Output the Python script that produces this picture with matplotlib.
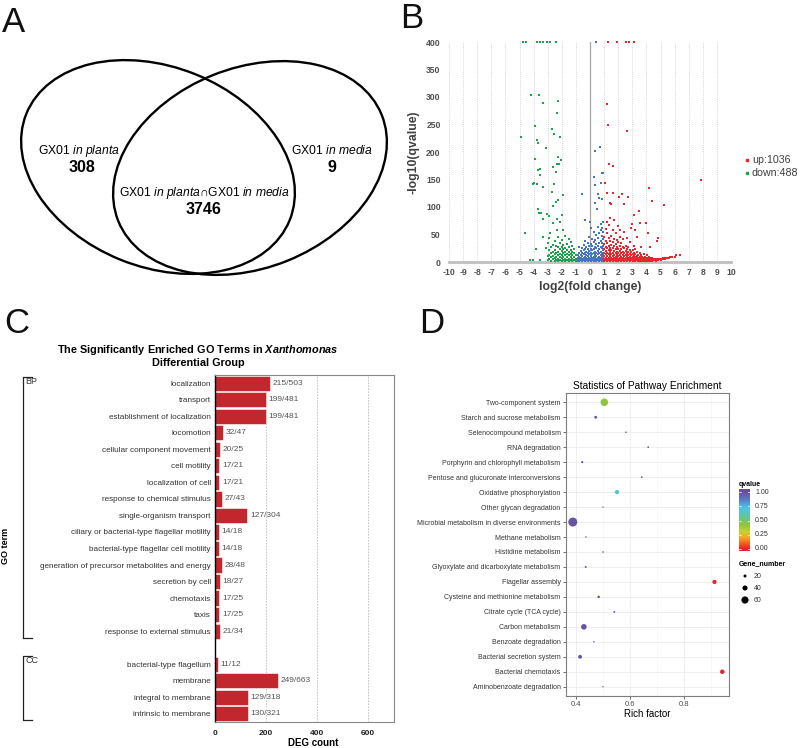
import numpy as np
import matplotlib
matplotlib.use('Agg')
import matplotlib.pyplot as plt
from matplotlib.patches import Ellipse
from matplotlib.lines import Line2D
from matplotlib.colors import LinearSegmentedColormap

plt.rcParams['font.family'] = ['Liberation Sans', 'DejaVu Sans']
plt.rcParams['mathtext.fontset'] = 'custom'
plt.rcParams['mathtext.rm'] = 'Liberation Sans'
plt.rcParams['mathtext.it'] = 'Liberation Sans:italic'
plt.rcParams['mathtext.bf'] = 'Liberation Sans:bold'
plt.rcParams['mathtext.bfit'] = 'Liberation Sans:italic:bold'
plt.rcParams['axes.unicode_minus'] = False

# ---------------- Panel A data ----------------
venn_names = ['GX01 $\\mathit{in\\ planta}$', 'GX01 $\\mathit{in\\ media}$']
venn_only = [308, 9]
venn_both = 3746

# ---------------- Panel B data ----------------
up_outliers = [(1.31, 400), (1.95, 400), (2.57, 400), (2.80, 400), (3.14, 400),
               (1.20, 287), (1.31, 250), (2.62, 238), (1.36, 178), (1.62, 174), (7.89, 150),
               (4.20, 135), (4.39, 111), (5.27, 103), (1.08, 144), (1.20, 126), (1.43, 108),
               (1.50, 105), (1.60, 126), (2.26, 124), (2.73, 118), (2.07, 118), (2.43, 106),
               (3.49, 93), (3.09, 85), (4.82, 44), (1.20, 73), (1.67, 76), (2.97, 70),
               (3.56, 71), (3.99, 71), (2.14, 58), (3.21, 58), (4.11, 52), (4.75, 39),
               (4.27, 27), (5.69, 10), (6.12, 12), (6.40, 13), (5.34, 8), (4.98, 6)]
up_columns = [(1.02, [1, 6, 11, 17, 24, 32, 45]), (1.12, [3, 8, 14, 20, 28, 38, 60]),
              (1.22, [1, 6, 11, 17, 25, 35, 52]), (1.32, [3, 8, 14, 21, 30, 44, 68]),
              (1.42, [1, 6, 11, 18, 26, 38, 80]), (1.52, [3, 8, 14, 21, 31, 48]),
              (1.62, [1, 6, 11, 17, 25, 36, 58]), (1.72, [3, 8, 13, 20, 29, 42]),
              (1.82, [1, 5, 10, 16, 23, 33, 52]), (1.92, [3, 8, 13, 19, 27, 40]),
              (2.02, [1, 6, 11, 17, 24, 36, 66]), (2.12, [3, 8, 13, 20, 30, 46]),
              (2.22, [1, 5, 10, 16, 23, 34]), (2.32, [3, 8, 13, 19, 28, 41]),
              (2.42, [1, 6, 11, 17, 25, 55]), (2.52, [3, 8, 13, 20, 30]),
              (2.62, [1, 5, 10, 16, 24, 44]), (2.72, [3, 7, 12, 19, 28]),
              (2.82, [1, 5, 10, 15, 22, 36]), (2.92, [3, 7, 12, 18, 62]),
              (3.02, [1, 5, 9, 14, 21]), (3.12, [3, 7, 12, 17, 30]),
              (3.22, [1, 5, 9, 14, 24]), (3.32, [3, 7, 11, 19, 45]),
              (3.42, [1, 4, 8, 13]), (3.52, [2, 6, 10, 17]), (3.62, [1, 4, 8, 13, 28]),
              (3.72, [2, 6, 10]), (3.82, [1, 4, 8, 15]), (3.92, [2, 5, 9]),
              (4.02, [1, 4, 7, 12]), (4.15, [2, 5, 9]), (4.28, [1, 4, 7]),
              (4.42, [2, 5, 8]), (4.55, [3, 6]), (4.70, [2, 5]), (4.85, [4, 6]),
              (5.00, [3, 6]), (5.15, [5, 7]), (5.30, [6]), (5.45, [7]), (5.60, [8]),
              (5.80, [9]), (6.00, [10])]

down_outliers = [(-4.72, 400), (-4.53, 400), (-3.78, 400), (-3.54, 400), (-3.30, 400),
                 (-3.07, 400), (-2.83, 400), (-2.40, 400),
                 (-4.20, 304), (-3.59, 304), (-3.30, 289), (-2.24, 292), (-2.31, 271),
                 (-3.89, 247), (-2.71, 242), (-2.52, 233), (-2.12, 227), (-4.86, 227),
                 (-3.73, 221), (-3.71, 217), (-3.11, 207), (-3.89, 188), (-2.24, 191),
                 (-2.07, 186), (-2.36, 179), (-2.59, 173), (-2.17, 179), (-3.70, 168),
                 (-2.40, 164), (-3.54, 158), (-3.94, 144), (-3.73, 141), (-2.54, 142),
                 (-1.93, 122), (-3.30, 136), (-2.71, 127), (-2.24, 112), (-2.40, 109),
                 (-2.64, 101), (-3.66, 97), (-3.07, 88), (-2.88, 83), (-3.30, 79),
                 (-2.36, 79), (-2.00, 85), (-4.60, 52), (-3.35, 45), (-4.01, 3),
                 (-4.25, 3), (-3.54, 4), (-2.59, 71), (-2.12, 73), (-1.88, 58),
                 (-2.83, 52), (-2.36, 58), (-3.85, 23), (-3.12, 25), (-2.90, 44),
                 (-3.62, 89), (-3.50, 90), (-4.04, 142), (-3.55, 169)]
down_columns = [(-1.02, [1, 6, 12]), (-1.12, [3, 9, 16, 24]), (-1.25, [1, 6, 12, 19, 30]),
                (-1.38, [3, 9, 15, 22, 36]), (-1.50, [1, 6, 12, 18, 27, 42]),
                (-1.62, [3, 9, 15, 21, 33]), (-1.75, [1, 6, 12, 19, 26, 48]),
                (-1.88, [4, 10, 16, 23, 31]), (-2.00, [1, 7, 13, 20, 28, 40]),
                (-2.12, [3, 9, 15, 24, 35]), (-2.25, [1, 6, 12, 18, 27, 46]),
                (-2.38, [4, 10, 17, 29]), (-2.50, [2, 8, 14, 22, 38]),
                (-2.62, [5, 11, 19, 31]), (-2.75, [2, 9, 16, 27]),
                (-2.88, [5, 13, 21]), (-3.00, [3, 11, 34])]

ns_outliers = [(0.44, 400), (0.32, 201), (0.72, 209), (0.25, 155), (0.84, 161), (0.90, 162),
               (0.33, 140), (0.76, 143), (0.57, 124), (0.33, 108), (0.65, 117), (0.85, 115),
               (0.47, 97), (-0.60, 124), (-0.34, 76), (0.01, 73), (-0.80, 28), (0.10, 62)]
ns_columns = [(-0.95, [1, 5]), (-0.85, [2, 7, 12]), (-0.75, [1, 5, 10, 16]),
              (-0.65, [3, 8, 13, 20]), (-0.55, [1, 6, 11, 17, 26]),
              (-0.45, [3, 8, 14, 21, 31]), (-0.35, [1, 5, 10, 16, 24, 38]),
              (-0.25, [3, 8, 13, 19, 28]), (-0.15, [1, 6, 11, 17, 23, 34]),
              (-0.05, [3, 8, 14, 20, 29, 46]), (0.05, [1, 6, 11, 17, 24, 33]),
              (0.15, [3, 8, 14, 21, 30, 42]), (0.25, [1, 5, 10, 16, 23, 36, 55]),
              (0.35, [3, 8, 13, 19, 27, 40]), (0.45, [1, 6, 11, 17, 25, 33, 50]),
              (0.55, [3, 8, 14, 20, 29, 44, 64]), (0.65, [1, 5, 10, 16, 23, 35, 52]),
              (0.75, [3, 8, 13, 19, 27, 39, 58, 70]), (0.85, [1, 6, 11, 17, 25, 34, 47, 62]),
              (0.95, [3, 9, 15, 22, 30, 41, 55, 72])]
volcano_legend = ['up:1036', 'down:488']

# ---------------- Panel C data ----------------
go_terms = ['localization', 'transport', 'establishment of localization', 'locomotion',
            'cellular component movement', 'cell motility', 'localization of cell',
            'response to chemical stimulus', 'single-organism transport',
            'ciliary or bacterial-type flagellar motility', 'bacterial-type flagellar cell motility',
            'generation of precursor metabolites and energy', 'secretion by cell', 'chemotaxis',
            'taxis', 'response to external stimulus',
            'bacterial-type flagellum', 'membrane', 'integral to membrane', 'intrinsic to membrane']
go_counts = [215, 199, 199, 32, 20, 17, 17, 27, 127, 14, 14, 28, 18, 17, 17, 21, 11, 249, 129, 130]
go_totals = [503, 481, 481, 47, 25, 21, 21, 43, 304, 18, 18, 48, 27, 25, 25, 34, 12, 663, 318, 321]
go_groups = ['BP'] * 16 + ['CC'] * 4

# ---------------- Panel D data ----------------
pathways = ['Two-component system', 'Starch and sucrose metabolism', 'Selenocompound metabolism',
            'RNA degradation', 'Porphyrin and chlorophyll metabolism',
            'Pentose and glucuronate interconversions', 'Oxidative phosphorylation',
            'Other glycan degradation', 'Microbial metabolism in diverse environments',
            'Methane metabolism', 'Histidine metabolism', 'Glyoxylate and dicarboxylate metabolism',
            'Flagellar assembly', 'Cysteine and methionine metabolism', 'Citrate cycle (TCA cycle)',
            'Carbon metabolism', 'Benzoate degradation', 'Bacterial secretion system',
            'Bacterial chemotaxis', 'Aminobenzoate degradation']
rich_factor = [0.504, 0.472, 0.584, 0.667, 0.422, 0.643, 0.551, 0.499, 0.387, 0.436,
               0.499, 0.435, 0.913, 0.483, 0.541, 0.428, 0.465, 0.414, 0.942, 0.499]
qvalue = [0.42, 0.98, 1.0, 1.0, 1.0, 1.0, 0.72, 1.0, 0.97, 1.0,
          1.0, 1.0, 0.01, 1.0, 1.0, 0.97, 1.0, 0.98, 0.0, 1.0]
gene_number = [63, 18, 6, 8, 12, 7, 32, 4, 77, 5, 6, 10, 32, 15, 9, 45, 5, 28, 34, 4]
size_legend = [20, 40, 60]
q_ticks = [0.0, 0.25, 0.5, 0.75, 1.0]

# ======================================================
W, H = 800, 748
fig = plt.figure(figsize=(8, 7.48), dpi=100)
fig.patch.set_facecolor('white')


def px_axes(x0, y0, x1, y1):
    return fig.add_axes([x0 / W, 1 - y1 / H, (x1 - x0) / W, (y1 - y0) / H])


def ftext(x, y, s, **kw):
    return fig.text(x / W, 1 - y / H, s, **kw)


# panel letters
for lab, x, y in [('A', 2, 32), ('B', 400, 28), ('C', 4, 333), ('D', 419, 333)]:
    ftext(x, y, lab, fontsize=25, va='baseline', ha='left', color='#111111')

# ---------------- Panel A ----------------
axA = px_axes(0, 0, 400, 300)
axA.set_xlim(0, 400)
axA.set_ylim(300, 0)
axA.axis('off')
axA.add_patch(Ellipse((158, 167), 284, 200, angle=22, fill=False, lw=1.7, ec='black'))
axA.add_patch(Ellipse((250, 168), 284, 200, angle=-22, fill=False, lw=1.7, ec='black'))
fs_lab = 8.7
fs_num = 11.5
axA.text(79, 151, venn_names[0], ha='center', va='center', fontsize=fs_lab)
axA.text(82, 168, str(venn_only[0]), ha='center', va='center', fontsize=fs_num, fontweight='bold')
axA.text(332, 151, venn_names[1], ha='center', va='center', fontsize=fs_lab)
axA.text(332, 168, str(venn_only[1]), ha='center', va='center', fontsize=fs_num, fontweight='bold')
axA.text(204, 193, venn_names[0] + '\u2229' + venn_names[1], ha='center', va='center', fontsize=fs_lab)
axA.text(204, 210, str(venn_both), ha='center', va='center', fontsize=fs_num, fontweight='bold')

# ---------------- Panel B ----------------
def flatten(outliers, columns):
    pts = list(outliers)
    for x, ys in columns:
        pts += [(x, y) for y in ys]
    a = np.array(pts, dtype=float)
    return a[:, 0], a[:, 1]


ux, uy = flatten(up_outliers, up_columns)
dx, dy = flatten(down_outliers, down_columns)
nx, ny = flatten(ns_outliers, ns_columns)

axB = px_axes(449, 42, 731, 262)
axB.set_xlim(-10, 10)
axB.set_ylim(0, 400)
for s in ['top', 'right', 'left']:
    axB.spines[s].set_visible(False)
axB.spines['bottom'].set_color('#BFBFBF')
axB.spines['bottom'].set_linewidth(2)
for v in range(-10, 11):
    axB.axvline(v, color='#C8C8C8', ls=(0, (1, 1.5)), lw=0.6, zorder=0)
axB.axvline(0, color='#A6A6A6', lw=0.9, zorder=1)
axB.set_xticks(range(-10, 11))
axB.set_yticks(range(0, 401, 50))
axB.tick_params(length=0, labelsize=6.2, labelcolor='#505050')
axB.tick_params(axis='x', pad=4.5)
axB.tick_params(axis='y', pad=6)
for lbl in axB.get_xticklabels() + axB.get_yticklabels():
    lbl.set_fontweight('bold')
mk = dict(marker='s', s=2.6, linewidths=0, clip_on=False, zorder=3)
axB.scatter(nx, ny, color='#4472C4', **mk)
axB.scatter(dx, dy, color='#1FA34A', **mk)
axB.scatter(ux, uy, color='#E8262B', **mk)
axB.set_xlabel('log2(fold change)', fontsize=8.8, fontweight='bold', color='#404040', labelpad=3)
axB.set_ylabel('-log10(qvalue)', fontsize=8.8, fontweight='bold', color='#404040', labelpad=5)
fig.add_artist(Line2D([747 / W], [1 - 160 / H], marker='s', ms=1.6, color='#E8262B', lw=0))
fig.add_artist(Line2D([747 / W], [1 - 173 / H], marker='s', ms=1.6, color='#1FA34A', lw=0))
ftext(752, 160, volcano_legend[0], fontsize=7.7, color='#404040', va='center')
ftext(752, 173, volcano_legend[1], fontsize=7.7, color='#404040', va='center')

# ---------------- Panel C ----------------
go_pos = [i if g == 'BP' else i + 1 for i, g in enumerate(go_groups)]
axC = px_axes(215, 375, 394, 722)
axC.barh(go_pos, go_counts, height=0.92, color='#C1272D', edgecolor='white', linewidth=0.4, zorder=2)
axC.set_xlim(0, 702)
axC.set_ylim(20.5, -0.5)
for v in [200, 400, 600]:
    axC.axvline(v, color='#BBBBBB', ls=(0, (2, 1.5)), lw=0.6, zorder=0)
axC.set_yticks(go_pos)
axC.set_yticklabels(go_terms, fontsize=5.9, color='#333333')
axC.tick_params(axis='y', length=0, pad=3)
axC.set_xticks([0, 200, 400, 600])
axC.tick_params(axis='x', length=0, pad=6, labelsize=6, labelcolor='#222222')
for lbl in axC.get_xticklabels():
    lbl.set_fontweight('bold')
for s in ['top', 'right', 'bottom']:
    axC.spines[s].set_color('#888888')
    axC.spines[s].set_linewidth(0.8)
axC.spines['left'].set_color('black')
axC.spines['left'].set_linewidth(1.0)
for p, c, t in zip(go_pos, go_counts, go_totals):
    axC.text(c + 10, p, f'{c}/{t}', va='center', ha='left', fontsize=6, color='#555555')
ftext(313, 743, 'DEG count', ha='center', va='center', fontsize=7, fontweight='bold')
ftext(198, 350, 'The Significantly Enriched GO Terms in $\\mathbfit{Xanthomonas}$',
      ha='center', va='center', fontsize=7.8, fontweight='bold')
ftext(198, 363, 'Differential Group', ha='center', va='center', fontsize=7.8, fontweight='bold')
ftext(6, 546, 'GO term', rotation=90, ha='center', va='center', fontsize=6.5, fontweight='bold')
# brackets
for (y0, y1, name) in [(376.7, 638, 'BP'), (656, 720, 'CC')]:
    fig.add_artist(Line2D([32 / W, 23 / W, 23 / W, 32 / W],
                          [1 - y0 / H, 1 - y0 / H, 1 - y1 / H, 1 - y1 / H], color='#222222', lw=0.9))
    ftext(25.5, y0 + 4.5, name, fontsize=6.5, va='center', ha='left', color='#333333')

# ---------------- Panel D ----------------
cmap = LinearSegmentedColormap.from_list('q', [
    (0.0, '#E8212A'), (0.1, '#F26522'), (0.2, '#F7A823'), (0.3, '#C2D52F'),
    (0.42, '#8DC63F'), (0.58, '#5EC7A0'), (0.72, '#4FC3E9'), (0.86, '#5A7BC6'),
    (1.0, '#6A4C9C')])


def dot_area(g):
    d = 0.9 + 0.105 * np.asarray(g, dtype=float)  # diameter in px
    return (d * 0.72) ** 2


axD = px_axes(565.7, 393.3, 729.3, 695.7)
ypos = np.arange(len(pathways))
axD.set_xlim(0.3606, 0.968)
axD.set_ylim(19.6, -0.6)
axD.set_xticks([0.4, 0.6, 0.8])
axD.set_xticks([0.5, 0.7, 0.9], minor=True)
axD.set_yticks(ypos)
axD.set_yticklabels(pathways, fontsize=5, color='#333333')
axD.grid(which='major', color='#EBEBEB', lw=0.6)
axD.grid(which='minor', axis='x', color='#F4F4F4', lw=0.4)
axD.set_axisbelow(True)
axD.tick_params(axis='y', length=2.2, width=0.5, color='#333333', pad=1.5)
axD.tick_params(axis='x', which='major', length=2.2, width=0.5, color='#333333', pad=1.5,
                labelsize=5.5, labelcolor='#4D4D4D')
axD.tick_params(axis='x', which='minor', length=0)
for s in axD.spines.values():
    s.set_color('#7F7F7F')
    s.set_linewidth(0.8)
axD.scatter(rich_factor, ypos, s=dot_area(gene_number), c=qvalue, cmap=cmap, vmin=0, vmax=1,
            edgecolors='none', zorder=3)
axD.set_xlabel('Rich factor', fontsize=7, labelpad=1)
axD.set_title('Statistics of Pathway Enrichment', fontsize=7.3, pad=3)

# colorbar
cax = px_axes(739, 489, 750, 551)
lo = -(551 - 549) / 56.7
hi = 1 + (492.3 - 489) / 56.7
grad = np.linspace(hi, lo, 200).reshape(-1, 1)
cax.imshow(np.clip(grad, 0, 1), cmap=cmap, vmin=0, vmax=1, aspect='auto', extent=[0, 1, lo, hi])
cax.set_xlim(0, 1)
cax.set_ylim(lo, hi)
cax.axis('off')
for q in q_ticks:
    cax.plot([0, 0.2], [q, q], color='white', lw=0.5)
    cax.plot([0.8, 1], [q, q], color='white', lw=0.5)
    ftext(755, 549 - q * 56.7, f'{q:.2f}', fontsize=5, va='center', ha='left', color='#333333')
ftext(738.5, 485, 'qvalue', fontsize=5, fontweight='bold', va='center', ha='left')
ftext(738.5, 564, 'Gene_number', fontsize=5, fontweight='bold', va='center', ha='left')
axL = px_axes(730, 568, 760, 608)
axL.set_xlim(730, 760)
axL.set_ylim(608, 568)
axL.axis('off')
axL.scatter([745] * 3, [576, 588, 600], s=dot_area(size_legend), color='black', edgecolors='none')
for g, yy in zip(size_legend, [576, 588, 600]):
    ftext(754, yy, str(g), fontsize=5, va='center', ha='left', color='#333333')

fig.savefig('out.png', dpi=100, facecolor='white')
